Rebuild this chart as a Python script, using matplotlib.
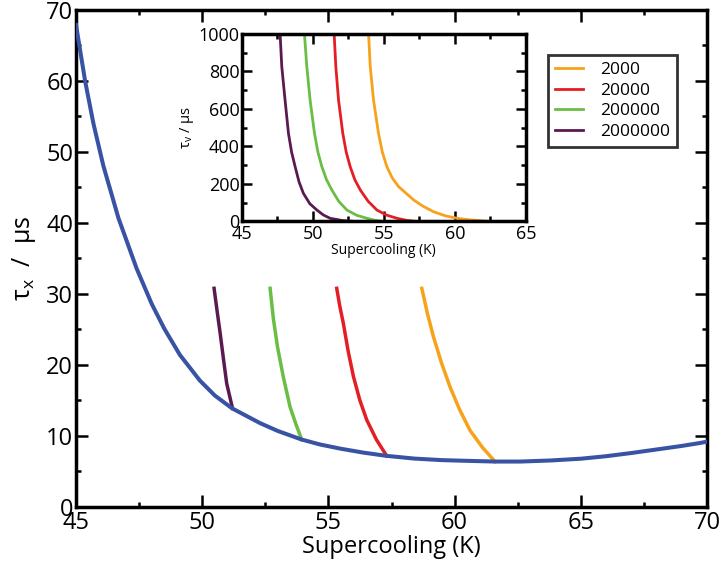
import matplotlib
matplotlib.use("Agg")
import matplotlib.pyplot as plt
from matplotlib.ticker import MultipleLocator

plt.rcParams['font.family'] = ['Open Sans', 'DejaVu Sans']
plt.rcParams['mathtext.fontset'] = 'custom'
plt.rcParams['mathtext.rm'] = 'Open Sans'
plt.rcParams['mathtext.it'] = 'Open Sans:italic'

# ---------------- data ----------------
# main curve: tau_x vs supercooling
blue_x = [45.0, 45.36, 45.69, 46.08, 46.68, 47.4, 48.0, 48.5, 49.12, 49.91,
          50.5, 51.18, 52.3, 53.0, 53.94, 54.67, 55.5, 56.4, 57.31, 58.4,
          59.5, 60.5, 61.6, 62.6, 63.8, 65.0, 66.0, 67.0, 68.0, 69.0, 69.7, 70.0]
blue_y = [67.9, 60.0, 54.0, 48.1, 40.7, 33.6, 28.6, 25.1, 21.4, 17.8,
          15.7, 13.9, 11.8, 10.7, 9.5, 8.8, 8.2, 7.65, 7.2, 6.82,
          6.6, 6.5, 6.4, 6.4, 6.55, 6.8, 7.15, 7.6, 8.1, 8.6, 9.0, 9.2]

labels = ['2000', '20000', '200000', '2000000']
colors = ['#F7A21B', '#E31E24', '#6ABD45', '#5B1A4F']

# main-panel segments
main_x = {
    '2000':    [58.70, 58.92, 59.16, 59.48, 59.82, 60.20, 60.61, 61.10, 61.60],
    '20000':   [55.33, 55.45, 55.59, 55.78, 55.99, 56.24, 56.52, 56.90, 57.31],
    '200000':  [52.69, 52.82, 52.98, 53.22, 53.48, 53.72, 53.94],
    '2000000': [50.47, 50.59, 50.71, 50.84, 50.97, 51.20],
}
main_y = {
    '2000':    [30.8, 27.3, 24.0, 20.3, 16.9, 13.7, 10.8, 8.4, 6.4],
    '20000':   [30.8, 28.3, 25.9, 22.0, 18.4, 15.1, 12.25, 9.5, 7.2],
    '200000':  [30.8, 26.5, 22.6, 18.2, 14.1, 11.6, 9.5],
    '2000000': [30.8, 27.6, 24.5, 20.9, 17.4, 13.9],
}

# inset curves: tau_v vs supercooling
inset_x = {
    '2000':    [53.93, 54.05, 54.28, 54.63, 54.90, 55.22, 55.60, 56.04, 57.1,
                57.75, 58.5, 59.3, 60.15, 61.0, 61.9, 62.4],
    '20000':   [51.51, 51.63, 51.82, 52.12, 52.36, 52.64, 52.97, 53.35, 53.90,
                54.52, 55.2, 55.93, 56.6, 57.3],
    '200000':  [49.42, 49.59, 49.82, 50.13, 50.37, 50.65, 50.98, 51.35, 51.85,
                52.41, 53.1, 53.82, 54.4, 55.0],
    '2000000': [47.71, 47.83, 48.06, 48.30, 48.52, 48.77, 49.04, 49.35, 49.80,
                50.30, 50.75, 51.23, 52.1, 53.0],
}
inset_y = {
    '2000':    [1004, 826, 648, 470, 370, 292, 232, 186, 115,
                82, 52, 31, 17, 9, 4, 0],
    '20000':   [1004, 826, 648, 470, 370, 292, 222, 168, 108,
                61, 34, 17, 6, 0],
    '200000':  [1004, 826, 648, 470, 370, 292, 222, 168, 106,
                61, 33, 17, 6, 0],
    '2000000': [1004, 826, 648, 470, 370, 292, 212, 150, 95,
                61, 35, 17, 5, 0],
}

# ---------------- figure ----------------
fig = plt.figure(figsize=(7.24, 5.71), dpi=100)
ax = fig.add_axes([0.105, 0.1121, 0.8715, 0.8704])

ax.plot(blue_x, blue_y, color='#3953A4', lw=2.9, zorder=3,
        solid_joinstyle='round')
for lab, c in zip(labels, colors):
    ax.plot(main_x[lab], main_y[lab], color=c, lw=2.5, zorder=2,
            solid_joinstyle='round')

ax.set_xlim(45, 70)
ax.set_ylim(0, 70)
ax.xaxis.set_major_locator(MultipleLocator(5))
ax.xaxis.set_minor_locator(MultipleLocator(2.5))
ax.yaxis.set_major_locator(MultipleLocator(10))
ax.yaxis.set_minor_locator(MultipleLocator(5))
ax.tick_params(which='both', direction='in', top=True, right=True,
               labelsize=17, width=1.8, pad=2)
ax.tick_params(axis='x', which='major', pad=3)
ax.tick_params(which='major', length=8.5)
ax.tick_params(which='minor', length=3.8)
for s in ax.spines.values():
    s.set_linewidth(2.5)
ax.set_xlabel('Supercooling (K)', fontsize=17, labelpad=0)
ax.set_ylabel(r'$\mathregular{\tau_x}$  /  μs', fontsize=18, labelpad=6)

# ---------------- inset ----------------
ins = fig.add_axes([0.3336, 0.6121, 0.3929, 0.3284])
lines = []
for lab, c in zip(labels, colors):
    ln, = ins.plot(inset_x[lab], inset_y[lab], color=c, lw=2.0, label=lab,
                   solid_joinstyle='round')
    lines.append(ln)
ins.set_xlim(45, 65)
ins.set_ylim(0, 1000)
ins.xaxis.set_major_locator(MultipleLocator(5))
ins.xaxis.set_minor_locator(MultipleLocator(2.5))
ins.yaxis.set_major_locator(MultipleLocator(200))
ins.yaxis.set_minor_locator(MultipleLocator(100))
ins.tick_params(which='both', direction='in', top=True, right=True,
                labelsize=13, width=1.8, pad=1.5)
ins.tick_params(axis='x', which='major', pad=2.5)
ins.tick_params(which='major', length=7)
ins.tick_params(which='minor', length=3.5)
for s in ins.spines.values():
    s.set_linewidth(2.5)
ins.set_xlabel('Supercooling (K)', fontsize=10, labelpad=0)
ins.set_ylabel(r'$\mathregular{\tau_v}$ / μs', fontsize=10.5, labelpad=2)

leg = fig.legend(handles=lines, labels=labels, loc='upper left',
                 bbox_to_anchor=(548 / 724, 1 - 55 / 571),
                 fontsize=12.5, frameon=True, fancybox=False,
                 handlelength=1.6, handletextpad=1.0, borderpad=0.4,
                 labelspacing=0.25, borderaxespad=0)
leg.get_frame().set_edgecolor('black')
leg.get_frame().set_linewidth(2.0)

fig.savefig('out.png', dpi=100)
